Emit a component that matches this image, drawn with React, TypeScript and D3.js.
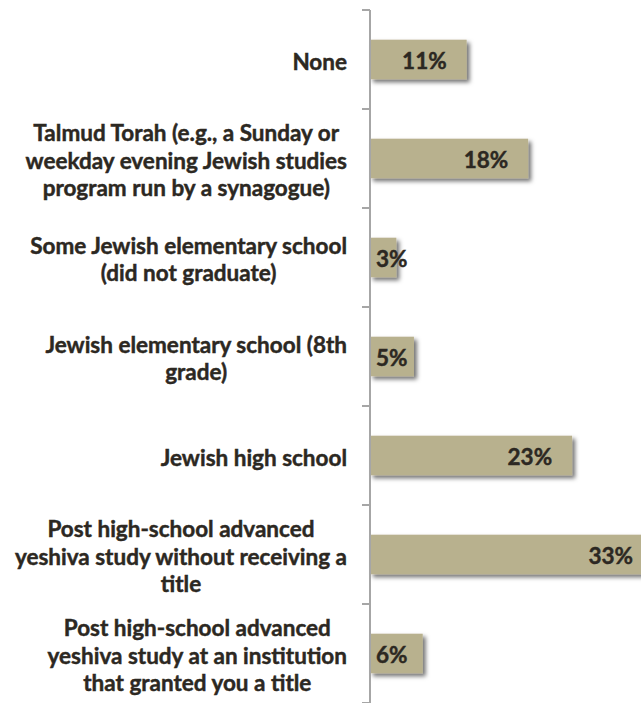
import React, { useEffect, useRef } from "react";
import * as d3 from "d3";

const categories: string[][] = [
  ["None"],
  ["Talmud Torah (e.g., a Sunday or", "weekday evening Jewish studies", "program run by a synagogue)"],
  ["Some Jewish elementary school", "(did not graduate)"],
  ["Jewish elementary school (8th", "grade)"],
  ["Jewish high school"],
  ["Post high-school advanced", "yeshiva study without receiving a", "title"],
  ["Post high-school advanced", "yeshiva study at an institution", "that granted you a title"],
];
const values: number[] = [11, 18, 3, 5, 23, 33, 6];
const valueLabels: string[] = ["11%", "18%", "3%", "5%", "23%", "33%", "6%"];

const W = 641;
const H = 703;
const FONT = "Lato, 'Open Sans', sans-serif";
const TEXT = "#2c2822";
const BAR = "#b8b18e";

export default function App() {
  const ref = useRef<SVGSVGElement | null>(null);

  useEffect(() => {
    const svg = d3.select(ref.current);
    svg.selectAll("*").remove();

    const ids = categories.map((_, i) => String(i));
    const y = d3.scaleBand<string>().domain(ids).range([10, 703]).paddingInner(0.6).paddingOuter(0.3);
    const x = d3.scaleLinear().domain([0, 33]).range([370, 660]);
    const step = y.step();

    const defs = svg.append("defs");
    const f = defs.append("filter").attr("id", "shadow").attr("x", "-20%").attr("y", "-30%").attr("width", "150%").attr("height", "180%");
    f.append("feDropShadow").attr("dx", 3).attr("dy", 3).attr("stdDeviation", 2).attr("flood-color", "#000").attr("flood-opacity", 0.55);

    // bars
    svg.append("g").selectAll("rect").data(values).join("rect")
      .attr("x", x(0))
      .attr("y", (_, i) => y(ids[i])!)
      .attr("width", (d) => x(d) - x(0))
      .attr("height", y.bandwidth())
      .attr("fill", BAR)
      .attr("filter", "url(#shadow)");

    // axis
    const ax = svg.append("g");
    ax.append("line").attr("x1", 370).attr("x2", 370).attr("y1", 10).attr("y2", 703)
      .attr("stroke", "#a6a6a6").attr("stroke-width", 2);
    const bounds = d3.range(categories.length + 1).map((i) => 10 + i * step);
    ax.selectAll("line.tick").data(bounds).join("line").attr("class", "tick")
      .attr("x1", 362).attr("x2", 370).attr("y1", (d) => d).attr("y2", (d) => d)
      .attr("stroke", "#a6a6a6").attr("stroke-width", 2);

    // category labels
    const lh = 27.5;
    categories.forEach((lines, i) => {
      const c = y(ids[i])! + y.bandwidth() / 2;
      const g = svg.append("g");
      const texts = lines.map((ln, j) =>
        g.append("text").text(ln)
          .attr("y", c + 10 + (j - (lines.length - 1) / 2) * lh)
          .attr("font-family", FONT).attr("font-weight", 700).attr("font-size", 22.5)
          .attr("fill", TEXT).attr("stroke", TEXT).attr("stroke-width", 0.45)
          .attr("text-anchor", "middle")
      );
      const maxW = d3.max(texts, (t) => (t.node() as SVGTextElement).getComputedTextLength()) || 0;
      texts.forEach((t) => t.attr("x", 347 - maxW / 2));
    });

    // value labels
    values.forEach((v, i) => {
      const c = y(ids[i])! + y.bandwidth() / 2;
      const t = svg.append("text").text(valueLabels[i])
        .attr("y", c + 9)
        .attr("font-family", FONT).attr("font-weight", 700).attr("font-size", 22.5)
        .attr("fill", TEXT).attr("stroke", TEXT).attr("stroke-width", 0.45)
        .attr("text-anchor", "end");
      const w = (t.node() as SVGTextElement).getComputedTextLength();
      const xe = Math.min(Math.max(x(v) - 20, 376 + w), 633);
      t.attr("x", xe);
    });
  }, []);

  return (
    <svg ref={ref} width={W} height={H} style={{ position: "absolute", left: 0, top: 0, background: "#fff" }} />
  );
}
